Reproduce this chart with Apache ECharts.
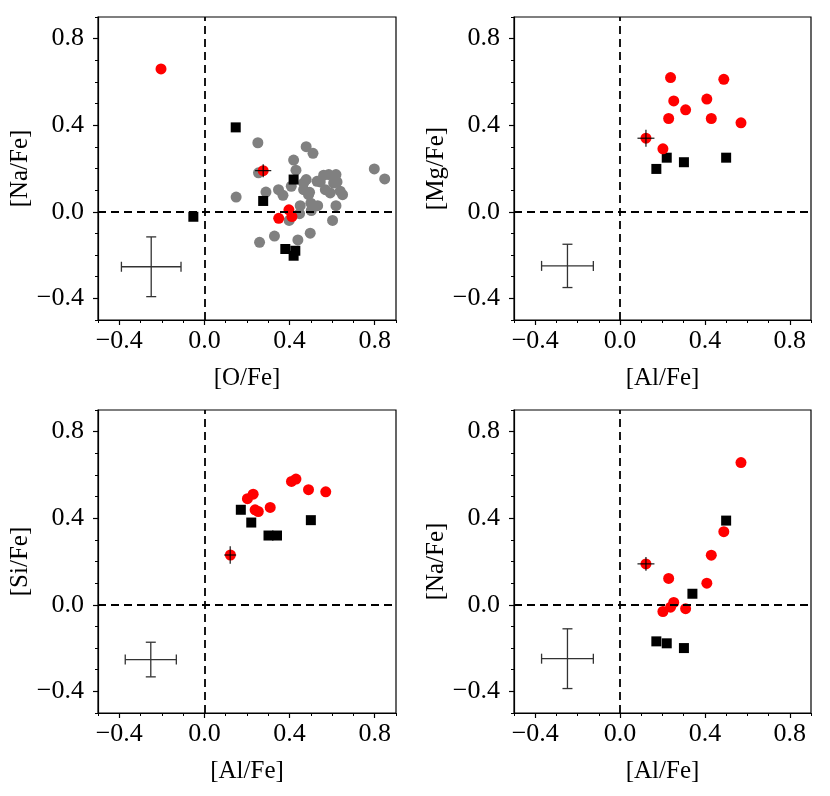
<!DOCTYPE html>
<html>
<head>
<meta charset="utf-8">
<script src="https://cdn.jsdelivr.net/npm/echarts@6/dist/echarts.min.js"></script>
<style>
  html, body { margin: 0; padding: 0; background: #fff; }
  #main { width: 830px; height: 796px; }
</style>
</head>
<body>
<div id="main"></div>
<script>
// panel 1: [O/Fe] vs [Na/Fe]
var oRed = [-0.204, 0.276, 0.349, 0.397, 0.411];
var naRedO = [0.66, 0.19, -0.03, 0.009, -0.022];
var oBlack = [0.147, -0.052, 0.419, 0.276, 0.38, 0.427, 0.419];
var naBlackO = [0.39, -0.023, 0.149, 0.05, -0.172, -0.18, -0.203];
var oGray = [0.251, 0.478, 0.510, 0.419, 0.430, 0.254, 0.149, 0.289, 0.348, 0.369,
  0.408, 0.478, 0.466, 0.494, 0.529, 0.560, 0.584, 0.618, 0.623, 0.568,
  0.591, 0.649, 0.618, 0.798, 0.847, 0.450, 0.500, 0.532, 0.502, 0.447,
  0.398, 0.602, 0.259, 0.329, 0.439, 0.497, 0.466, 0.489, 0.544, 0.607, 0.638];
var naGray = [0.319, 0.301, 0.270, 0.239, 0.192, 0.180, 0.068, 0.091, 0.102, 0.076,
  0.118, 0.149, 0.102, 0.090, 0.141, 0.169, 0.172, 0.172, 0.138, 0.102,
  0.087, 0.079, 0.028, 0.198, 0.152, 0.028, 0.040, 0.028, 0.006, -0.009,
  -0.040, -0.040, -0.141, -0.112, -0.130, -0.099, 0.133, 0.079, 0.138, 0.133, 0.095];

// panels 2-4: [Al/Fe] vs [Mg/Fe], [Si/Fe], [Na/Fe]
var alRed = [0.122, 0.202, 0.229, 0.238, 0.253, 0.309, 0.409, 0.430, 0.489, 0.570];
var mgRed = [0.34, 0.291, 0.431, 0.62, 0.512, 0.471, 0.521, 0.431, 0.612, 0.411];
var siRed = [0.23, 0.49, 0.511, 0.439, 0.431, 0.45, 0.57, 0.581, 0.532, 0.522];
var naRed = [0.189, -0.031, 0.122, -0.011, 0.011, -0.018, 0.1, 0.229, 0.338, 0.657];
var alBlack = [0.171, 0.220, 0.301, 0.341, 0.500];
var mgBlack = [0.198, 0.25, 0.229, null, 0.25];
var siBlack = [0.439, 0.38, 0.32, 0.32, 0.391];
var naBlack = [-0.169, -0.178, -0.2, 0.051, 0.389];

// typical error bars [x, y, xerr, yerr]
var typErr = [
  [-0.25, -0.254, 0.14, 0.138],
  [-0.248, -0.25, 0.122, 0.1],
  [-0.252, -0.253, 0.12, 0.08],
  [-0.248, -0.249, 0.122, 0.138]
];
// small error cross on the first red star
var starErr = [
  [0.276, 0.19, 0.038, 0.03],
  [0.122, 0.34, 0.04, 0.039],
  [0.121, 0.23, 0.028, 0.04],
  [0.122, 0.189, 0.04, 0.032]
];

var xNames = ['[O/Fe]', '[Al/Fe]', '[Al/Fe]', '[Al/Fe]'];
var yNames = ['[Na/Fe]', '[Mg/Fe]', '[Si/Fe]', '[Na/Fe]'];
var majorTicks = [-0.4, 0, 0.4, 0.8];

function zip(xs, ys) {
  var out = [];
  for (var i = 0; i < xs.length; i++) {
    if (ys[i] != null) out.push([xs[i], ys[i]]);
  }
  return out;
}

var FONT = 'Liberation Serif';
var grids = [
  { left: 98, top: 17, width: 298, height: 303 },
  { left: 514, top: 17, width: 297, height: 303 },
  { left: 98, top: 410, width: 298, height: 303 },
  { left: 514, top: 410, width: 297, height: 303 }
];

function fmt(v) {
  var s = Math.abs(v).toFixed(1);
  return v < -1e-9 ? '\u2212' + s : s;
}

var labelStyle = { fontFamily: FONT, fontSize: 25, color: '#000' };

var xAxes = [], yAxes = [], series = [];
grids.forEach(function (g, i) {
  g.show = true;
  g.borderColor = '#000';
  g.borderWidth = 1.2;
  g.containLabel = false;
  xAxes.push({
    type: 'value', gridIndex: i, min: -0.5, max: 0.9, position: 'bottom',
    name: xNames[i], nameLocation: 'middle', nameGap: 46,
    nameTextStyle: labelStyle,
    splitLine: { show: false },
    axisLine: { onZero: false, lineStyle: { color: '#000', width: 1.2 } },
    axisTick: { customValues: majorTicks, length: 5, lineStyle: { color: '#000', width: 1.2 } },
    axisLabel: { customValues: majorTicks, formatter: fmt, margin: 8,
      fontFamily: FONT, fontSize: 26, color: '#000' }
  });
  xAxes.push({
    type: 'value', gridIndex: i, min: -0.5, max: 0.9, interval: 0.1, position: 'bottom',
    splitLine: { show: false }, axisLine: { show: false, onZero: false }, axisLabel: { show: false },
    axisTick: { length: 3, lineStyle: { color: '#000', width: 1 } }
  });
  yAxes.push({
    type: 'value', gridIndex: i, min: -0.5, max: 0.9, position: 'left',
    name: yNames[i], nameLocation: 'middle', nameGap: 59,
    nameTextStyle: labelStyle,
    splitLine: { show: false },
    axisLine: { onZero: false, lineStyle: { color: '#000', width: 1.2 } },
    axisTick: { customValues: majorTicks, length: 5, lineStyle: { color: '#000', width: 1.2 } },
    axisLabel: { customValues: majorTicks, formatter: fmt, margin: 14,
      fontFamily: FONT, fontSize: 26, color: '#000' }
  });
  yAxes.push({
    type: 'value', gridIndex: i, min: -0.5, max: 0.9, interval: 0.1, position: 'left',
    splitLine: { show: false }, axisLine: { show: false, onZero: false }, axisLabel: { show: false },
    axisTick: { length: 3, lineStyle: { color: '#000', width: 1 } }
  });
});

function errItem(caps, color, lw) {
  return function (params, api) {
    var x = api.value(0), y = api.value(1), ex = api.value(2), ey = api.value(3);
    var l = api.coord([x - ex, y]), r = api.coord([x + ex, y]);
    var t = api.coord([x, y + ey]), b = api.coord([x, y - ey]);
    var st = { stroke: color, lineWidth: lw, fill: null };
    var kids = [
      { type: 'line', shape: { x1: l[0], y1: l[1], x2: r[0], y2: r[1] }, style: st },
      { type: 'line', shape: { x1: t[0], y1: t[1], x2: b[0], y2: b[1] }, style: st }
    ];
    if (caps) {
      kids.push({ type: 'line', shape: { x1: l[0], y1: l[1] - caps, x2: l[0], y2: l[1] + caps }, style: st });
      kids.push({ type: 'line', shape: { x1: r[0], y1: r[1] - caps, x2: r[0], y2: r[1] + caps }, style: st });
      kids.push({ type: 'line', shape: { x1: t[0] - caps, y1: t[1], x2: t[0] + caps, y2: t[1] }, style: st });
      kids.push({ type: 'line', shape: { x1: b[0] - caps, y1: b[1], x2: b[0] + caps, y2: b[1] }, style: st });
    }
    return { type: 'group', children: kids };
  };
}

var panels = [
  { red: zip(oRed, naRedO), black: zip(oBlack, naBlackO), gray: zip(oGray, naGray) },
  { red: zip(alRed, mgRed), black: zip(alBlack, mgBlack) },
  { red: zip(alRed, siRed), black: zip(alBlack, siBlack) },
  { red: zip(alRed, naRed), black: zip(alBlack, naBlack) }
];

panels.forEach(function (p, i) {
  var xi = i * 2, yi = i * 2;
  // dashed zero lines
  series.push({
    type: 'line', xAxisIndex: xi, yAxisIndex: yi, data: [], silent: true, z: 1,
    markLine: {
      silent: true, symbol: 'none', animation: false,
      label: { show: false },
      lineStyle: { color: '#000', width: 1.8, type: [8, 5], opacity: 1 },
      emphasis: { disabled: true },
      data: [{ xAxis: 0 }, { yAxis: 0 }]
    }
  });
  if (p.gray) {
    series.push({
      type: 'scatter', xAxisIndex: xi, yAxisIndex: yi, data: p.gray, z: 2,
      symbol: 'circle', symbolSize: 11, itemStyle: { color: '#808080', opacity: 1 }
    });
  }
  series.push({
    type: 'scatter', xAxisIndex: xi, yAxisIndex: yi, data: p.black, z: 3,
    symbol: 'rect', symbolSize: 10, itemStyle: { color: '#000', opacity: 1 }
  });
  series.push({
    type: 'scatter', xAxisIndex: xi, yAxisIndex: yi, data: p.red, z: 4,
    symbol: 'circle', symbolSize: 11, itemStyle: { color: '#ff0000', opacity: 1 }
  });
  series.push({
    type: 'custom', xAxisIndex: xi, yAxisIndex: yi, data: [starErr[i]], z: 5,
    renderItem: errItem(0, '#000', 1.1)
  });
  series.push({
    type: 'custom', xAxisIndex: xi, yAxisIndex: yi, data: [typErr[i]], z: 5,
    renderItem: errItem(5, '#333', 1.3)
  });
});

var chart = echarts.init(document.getElementById('main'));
chart.setOption({
  animation: false,
  textStyle: { fontFamily: FONT, fontSize: 25, color: '#000' },
  grid: grids,
  xAxis: xAxes,
  yAxis: yAxes,
  series: series
});
</script>
</body>
</html>
